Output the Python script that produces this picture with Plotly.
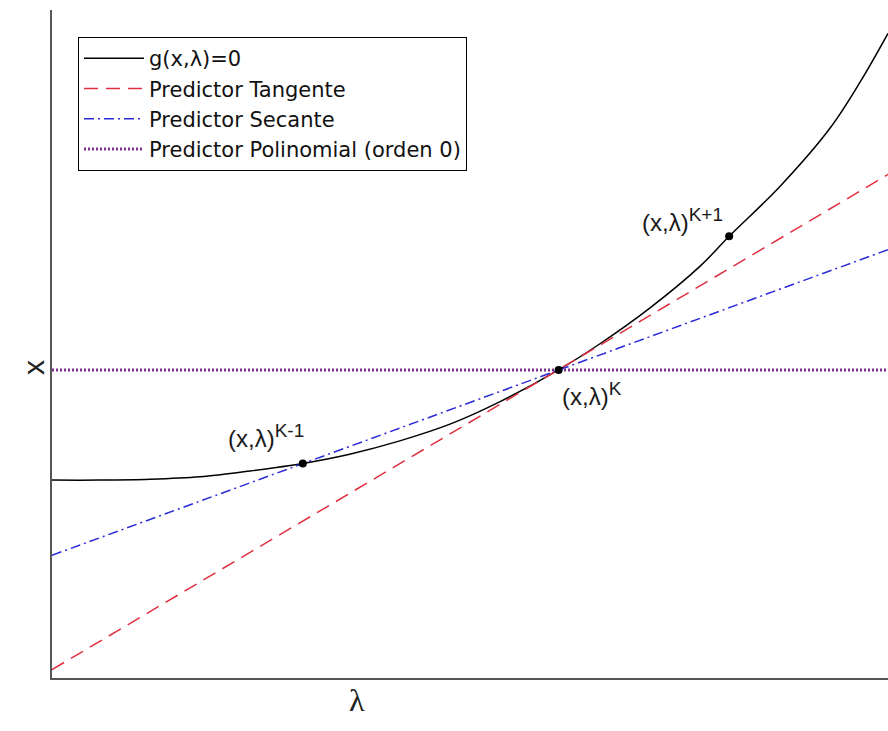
import plotly.graph_objects as go

# Curve g(x, lambda) = 0
curve_lambda = [0.0, 0.57, 1.17, 1.77, 2.37, 3.0, 3.56, 4.16, 4.76, 5.36, 6.06, 6.55, 7.15, 7.75, 8.1, 8.71, 9.31, 9.68, 10.0]
curve_x = [2.37, 2.37, 2.38, 2.41, 2.48, 2.57, 2.68, 2.84, 3.04, 3.31, 3.69, 4.0, 4.43, 4.93, 5.29, 5.89, 6.59, 7.16, 7.72]

# Predictors
tangent_lambda = [0.0, 10.0]
tangent_x = [0.10, 6.03]
secant_lambda = [0.0, 10.0]
secant_x = [1.47, 5.13]
poly_lambda = [0.0, 10.0]
poly_x = [3.69, 3.69]

# Marked points
pt_lambda = [3.0, 6.06, 8.1]
pt_x = [2.57, 3.69, 5.29]
pt_main = ["(x,λ)", "(x,λ)", "(x,λ)"]
pt_sup = ["K-1", "K", "K+1"]

fig = go.Figure()
fig.add_trace(go.Scatter(x=curve_lambda, y=curve_x, mode="lines", name="g(x,λ)=0",
                         line=dict(color="black", width=1.5, shape="spline")))
fig.add_trace(go.Scatter(x=tangent_lambda, y=tangent_x, mode="lines", name="Predictor Tangente",
                         line=dict(color="#e03040", width=1.5, dash="14px,8px")))
fig.add_trace(go.Scatter(x=secant_lambda, y=secant_x, mode="lines", name="Predictor Secante",
                         line=dict(color="#2a2ad8", width=1.5, dash="10px,4px,2px,4px")))
fig.add_trace(go.Scatter(x=poly_lambda, y=poly_x, mode="lines", name="Predictor Polinomial (orden 0)",
                         line=dict(color="#7e2f8e", width=3, dash="2px,2px")))
fig.add_trace(go.Scatter(x=pt_lambda, y=pt_x, mode="markers", showlegend=False,
                         marker=dict(color="black", size=8)))

offsets = [(3, 27, "right"), (1, -24, "left"), (-4, 16, "right")]
for lam, xv, m, s, (dx, dy, xa) in zip(pt_lambda, pt_x, pt_main, pt_sup, offsets):
    fig.add_annotation(x=lam, y=xv, text=f'{m}<sup><span style="font-size:19px">{s}</span></sup>',
                       showarrow=False, xanchor=xa, yanchor="middle",
                       xshift=dx, yshift=dy,
                       font=dict(family="Liberation Sans, Arial", size=24, color="#1a1a1a"))

fig.add_annotation(xref="paper", yref="paper", x=(357 - 52) / 836, y=(678 - 700) / 668,
                   text="λ", showarrow=False, xanchor="center", yanchor="middle",
                   font=dict(family="Liberation Serif, Times New Roman", size=32, color="#222"))
fig.add_annotation(xref="paper", yref="paper", x=(33 - 52) / 836, y=(678 - 368) / 668,
                   text="x", showarrow=False, xanchor="center", yanchor="middle", textangle=-90,
                   font=dict(family="Liberation Sans, Arial", size=30, color="#222"))

fig.update_layout(
    width=888, height=731,
    margin=dict(l=52, r=0, t=10, b=53),
    paper_bgcolor="white", plot_bgcolor="white",
    showlegend=True,
    legend=dict(x=(78 - 52) / 836, y=(678 - 37) / 668, xanchor="left", yanchor="top",
                bgcolor="white", bordercolor="black", borderwidth=1,
                font=dict(family="DejaVu Sans, Verdana", size=21, color="#111"),
                itemwidth=60, tracegroupgap=0),
    xaxis=dict(range=[0, 10], showgrid=False, zeroline=False, showticklabels=False, ticks="",
               showline=True, linecolor="#555", linewidth=2, mirror=False),
    yaxis=dict(range=[0, 8], showgrid=False, zeroline=False, showticklabels=False, ticks="",
               showline=True, linecolor="#555", linewidth=2, mirror=False),
)

fig.write_html("out.html", config={"displayModeBar": False},
               post_script="document.body.style.margin='0px';")
